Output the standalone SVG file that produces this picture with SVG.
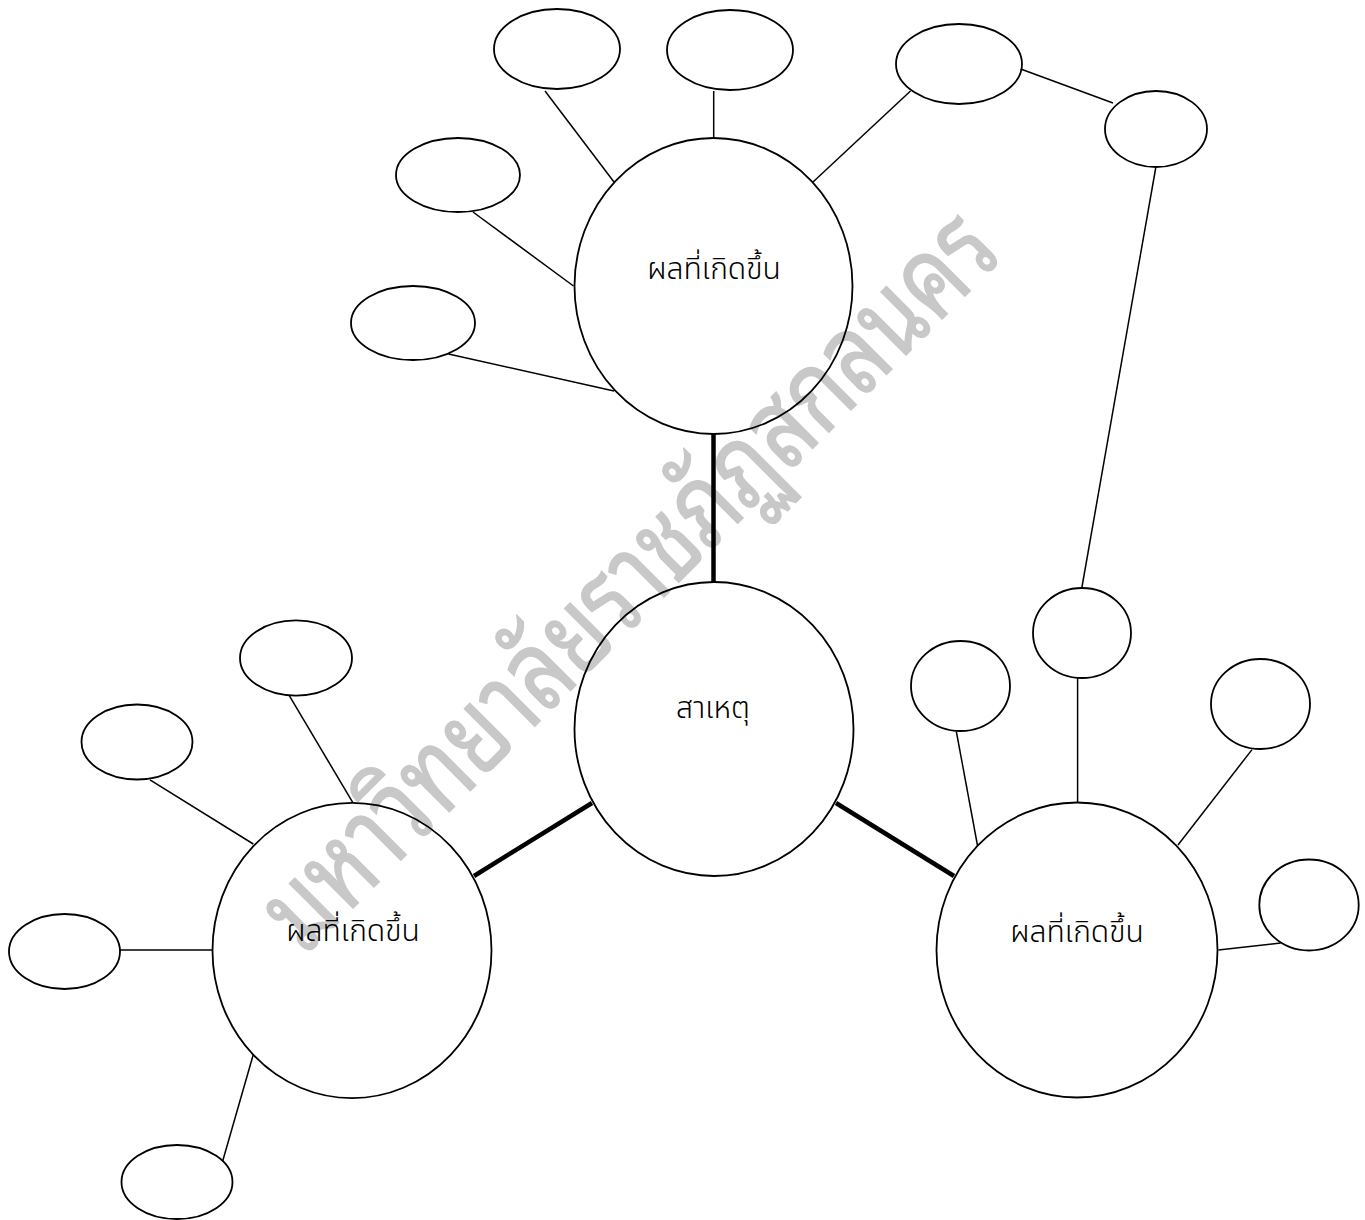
<svg xmlns="http://www.w3.org/2000/svg" width="1365" height="1220" viewBox="0 0 1365 1220">
<style>
.n{fill:none;stroke:#000;stroke-width:1.8}
.c{stroke:#000;stroke-width:1.5;fill:none}
.t{stroke:#000;stroke-width:4.5;fill:none}
.l{font-family:"Noto Sans Thai","Noto Sans","DejaVu Sans",sans-serif;font-size:30px;font-weight:350;fill:#000;text-anchor:middle}
.w{font-family:"Noto Sans Thai Looped","Loma","Garuda","Noto Serif Thai","Noto Sans Thai",sans-serif;font-size:112px;font-weight:400;fill:#c8c8c8;stroke:#c8c8c8;stroke-width:1.5;text-anchor:middle}
</style>
<rect width="1365" height="1220" fill="#fff"/>
<text class="w" transform="translate(655,606) rotate(-45)" x="0" y="0" textLength="990" lengthAdjust="spacingAndGlyphs">มหาวิทยาลัยราชภัฏสกลนคร</text>
<g id="connectors">
<line class="t" x1="713.5" y1="434" x2="713.5" y2="582"/>
<line class="t" x1="474" y1="876" x2="592" y2="803"/>
<line class="t" x1="836" y1="803" x2="954" y2="876"/>
<line class="c" x1="545" y1="91" x2="614" y2="182"/>
<line class="c" x1="713.7" y1="91" x2="713.7" y2="138"/>
<line class="c" x1="910.5" y1="91" x2="813" y2="182"/>
<line class="c" x1="473" y1="212" x2="573.5" y2="286"/>
<line class="c" x1="448.5" y1="354" x2="614" y2="391"/>
<line class="c" x1="1020.7" y1="69" x2="1113" y2="103"/>
<line class="c" x1="1155.7" y1="168" x2="1081.7" y2="588.5"/>
<line class="c" x1="1077.6" y1="678" x2="1077.6" y2="802.5"/>
<line class="c" x1="956.4" y1="731.8" x2="977.6" y2="846"/>
<line class="c" x1="1252" y1="749.6" x2="1178" y2="845"/>
<line class="c" x1="1280.7" y1="943" x2="1218.4" y2="950"/>
<line class="c" x1="289.3" y1="695.7" x2="352.7" y2="802.4"/>
<line class="c" x1="150" y1="779.8" x2="253.3" y2="844"/>
<line class="c" x1="120" y1="950" x2="212.7" y2="950"/>
<line class="c" x1="222.7" y1="1161" x2="253.3" y2="1054.5"/>
</g>
<g id="top-result"><ellipse class="n" cx="713.5" cy="286" rx="139" ry="148"/><text class="l" x="714" y="279">ผลที่เกิดขึ้น</text></g>
<g id="cause"><ellipse class="n" cx="714" cy="729" rx="139.5" ry="147"/><text class="l" x="713" y="718">สาเหตุ</text></g>
<g id="left-result"><ellipse class="n" cx="352" cy="950.5" rx="139.5" ry="147.6"/><text class="l" x="353" y="941">ผลที่เกิดขึ้น</text></g>
<g id="right-result"><ellipse class="n" cx="1077" cy="950" rx="140.5" ry="147.5"/><text class="l" x="1077" y="942">ผลที่เกิดขึ้น</text></g>
<g id="e1"><ellipse class="n" cx="557" cy="49" rx="63" ry="40"/></g>
<g id="e2"><ellipse class="n" cx="730" cy="50" rx="63" ry="40"/></g>
<g id="e3"><ellipse class="n" cx="959" cy="64" rx="63" ry="40"/></g>
<g id="e4"><ellipse class="n" cx="458" cy="175" rx="62" ry="37"/></g>
<g id="e5"><ellipse class="n" cx="413" cy="323" rx="62" ry="37"/></g>
<g id="e6"><ellipse class="n" cx="1156" cy="129" rx="51" ry="38"/></g>
<g id="e7"><ellipse class="n" cx="1082" cy="633" rx="49" ry="45"/></g>
<g id="e8"><ellipse class="n" cx="960.5" cy="686" rx="49.5" ry="45"/></g>
<g id="e9"><ellipse class="n" cx="1260.5" cy="704" rx="49.5" ry="45"/></g>
<g id="e10"><ellipse class="n" cx="1309" cy="905" rx="49.7" ry="45.5"/></g>
<g id="e11"><ellipse class="n" cx="296" cy="658" rx="56" ry="37.6"/></g>
<g id="e12"><ellipse class="n" cx="137" cy="742" rx="55.5" ry="37.5"/></g>
<g id="e13"><ellipse class="n" cx="64.5" cy="951.5" rx="55.5" ry="37.5"/></g>
<g id="e14"><ellipse class="n" cx="177" cy="1182" rx="55.5" ry="37"/></g>
</svg>
